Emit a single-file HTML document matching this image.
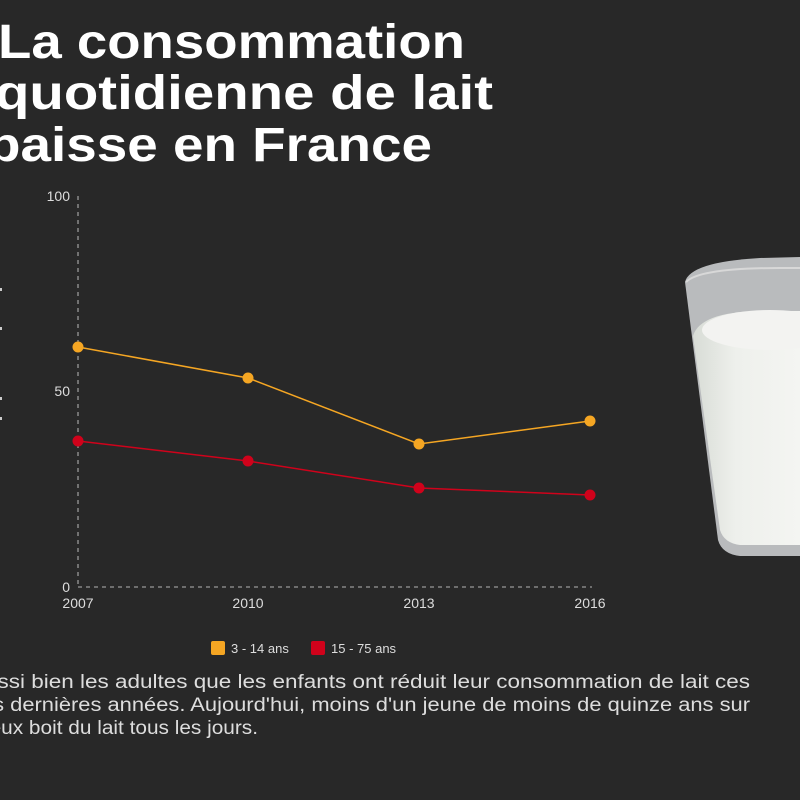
<!DOCTYPE html>
<html><head><meta charset="utf-8"><style>
html,body{margin:0;padding:0;}
body{width:800px;height:800px;background:#282828;position:relative;overflow:hidden;font-family:"Liberation Sans",sans-serif;}
</style></head><body>
<svg width="800" height="800" style="position:absolute;left:0;top:0" font-family="Liberation Sans,sans-serif">
<defs>
<linearGradient id="m" x1="0" x2="1"><stop offset="0" stop-color="#d8dcd6"/><stop offset="0.4" stop-color="#eef0ec"/><stop offset="1" stop-color="#f4f5f2"/></linearGradient>
</defs>
<g fill="#fff" font-weight="bold" font-size="48">
<text x="-2" y="58" textLength="467" lengthAdjust="spacingAndGlyphs">La consommation</text>
<text x="-5" y="109" textLength="498" lengthAdjust="spacingAndGlyphs">quotidienne de lait</text>
<text x="-13" y="161" textLength="445" lengthAdjust="spacingAndGlyphs">baisse en France</text>
</g>
<!-- glass -->
<path d="M685 282 Q690 262 760 258 L800 257 L800 556 L740 556 Q722 554 718 540 Z" fill="#b9bbbd"/>
<path d="M693 336 Q700 312 760 311 L800 311 L800 545 L740 545 Q724 543 720 530 Z" fill="url(#m)"/>
<ellipse cx="770" cy="330" rx="68" ry="20" fill="#f3f3f1"/>
<path d="M686 282 Q700 268 780 268 L800 268" stroke="#d8d8d8" stroke-width="2" fill="none"/>
<!-- axes -->
<g stroke="#999" stroke-width="1.3" stroke-dasharray="4,4" fill="none">
<line x1="78" y1="196" x2="78" y2="587"/>
<line x1="78" y1="587" x2="592" y2="587"/>
</g>
<g fill="#ddd" font-size="14">
<text x="70" y="201" text-anchor="end">100</text>
<text x="70" y="396" text-anchor="end">50</text>
<text x="70" y="592" text-anchor="end">0</text>
<text x="78" y="608" text-anchor="middle">2007</text>
<text x="248" y="608" text-anchor="middle">2010</text>
<text x="419" y="608" text-anchor="middle">2013</text>
<text x="590" y="608" text-anchor="middle">2016</text>
</g>
<polyline points="78,347 248,378 419,444 590,421" fill="none" stroke="#f5a623" stroke-width="1.5"/>
<polyline points="78,441 248,461 419,488 590,495" fill="none" stroke="#d0021b" stroke-width="1.5"/>
<g fill="#f5a623"><circle cx="78" cy="347" r="5.5"/><circle cx="248" cy="378" r="5.5"/><circle cx="419" cy="444" r="5.5"/><circle cx="590" cy="421" r="5.5"/></g>
<g fill="#d0021b"><circle cx="78" cy="441" r="5.5"/><circle cx="248" cy="461" r="5.5"/><circle cx="419" cy="488" r="5.5"/><circle cx="590" cy="495" r="5.5"/></g>
<rect x="211" y="641" width="14" height="14" rx="2" fill="#f5a623"/>
<text x="231" y="653" fill="#ddd" font-size="13">3 - 14 ans</text>
<rect x="311" y="641" width="14" height="14" rx="2" fill="#d0021b"/>
<text x="331" y="653" fill="#ddd" font-size="13">15 - 75 ans</text>
<g fill="#ccc"><rect x="0" y="288" width="2" height="3"/><rect x="0" y="327" width="2" height="3"/><rect x="0" y="397" width="2" height="3"/><rect x="0" y="417" width="2" height="3"/></g>
<g fill="#ddd" font-size="19">
<text x="-30" y="688" textLength="780" lengthAdjust="spacingAndGlyphs">Aussi bien les adultes que les enfants ont réduit leur consommation de lait ces</text>
<text x="-30" y="711" textLength="780" lengthAdjust="spacingAndGlyphs">ces dernières années. Aujourd'hui, moins d'un jeune de moins de quinze ans sur</text>
<text x="-22" y="734" textLength="280" lengthAdjust="spacingAndGlyphs">deux boit du lait tous les jours.</text>
</g>
</svg>
</body></html>
